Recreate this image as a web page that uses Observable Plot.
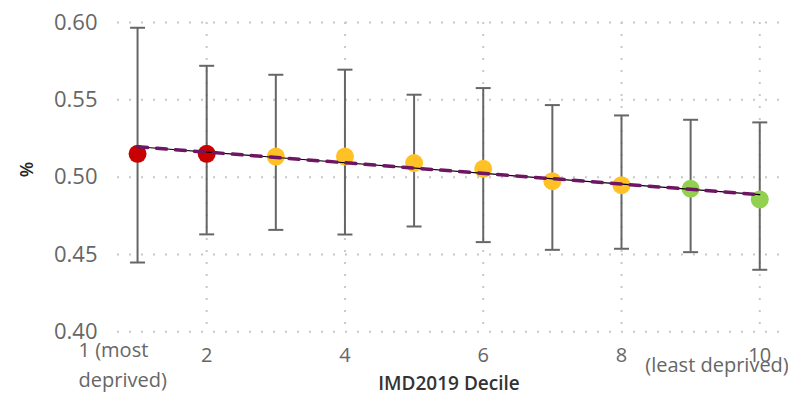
<!DOCTYPE html>
<html>
<head>
<meta charset="utf-8">
<script src="https://cdn.jsdelivr.net/npm/d3@7"></script>
<script src="https://cdn.jsdelivr.net/npm/@observablehq/plot@0.6"></script>
<style>
  html, body { margin: 0; padding: 0; background: #fff; }
</style>
</head>
<body>
<div id="chart"></div>
<script>
const deciles = [1, 2, 3, 4, 5, 6, 7, 8, 9, 10];
const values  = [0.5151, 0.5151, 0.5133, 0.5133, 0.5091, 0.5054, 0.4974, 0.4948, 0.4925, 0.4856];
const lower   = [0.4448, 0.4630, 0.4659, 0.4629, 0.4681, 0.4580, 0.4530, 0.4537, 0.4515, 0.4401];
const upper   = [0.5966, 0.5720, 0.5662, 0.5695, 0.5533, 0.5576, 0.5466, 0.5399, 0.5371, 0.5354];
const rag     = ["high", "high", "similar", "similar", "similar", "similar", "similar", "similar", "low", "low"];
const yTicks  = [0.40, 0.45, 0.50, 0.55, 0.60];
const xTicks  = [2, 4, 6, 8, 10];
const xTitle  = "IMD2019 Decile";
const yTitle  = "%";
const firstLabel = ["1 (most", "deprived)"];
const lastLabel  = "(least deprived)";

const data = deciles.map((d, i) => ({decile: d, value: values[i], lo: lower[i], hi: upper[i], rag: rag[i]}));

const capSymbol = {
  draw(ctx, size) {
    const r = Math.sqrt(size / Math.PI);
    ctx.moveTo(-r, 0);
    ctx.lineTo(r, 0);
  }
};

const chart = Plot.plot({
  width: 788,
  height: 402,
  marginLeft: 117,
  marginRight: 8,
  marginTop: 22,
  marginBottom: 70.7,
  style: {fontFamily: "'Open Sans', sans-serif", background: "white"},
  x: {domain: [0.71, 10.3]},
  y: {domain: [0.40, 0.60]},
  color: {domain: ["high", "similar", "low"], range: ["#C80000", "#FFC125", "#92D050"]},
  marks: [
    Plot.gridY(yTicks, {stroke: "#c8c8c8", strokeOpacity: 1, strokeWidth: 2, strokeDasharray: "2,10"}),
    Plot.gridX(xTicks, {stroke: "#c8c8c8", strokeOpacity: 1, strokeWidth: 2, strokeDasharray: "2,10"}),
    Plot.axisY(yTicks, {tickFormat: d3.format(".2f"), tickSize: 0, tickPadding: 20, fontSize: 22, color: "#666", label: null}),
    Plot.axisX(xTicks, {tickSize: 0, tickPadding: 16, fontSize: 20, color: "#666", label: null}),
    Plot.ruleX(data, {x: "decile", y1: "lo", y2: "hi", stroke: "#666", strokeWidth: 2}),
    Plot.dot(data, {x: "decile", y: "lo", symbol: capSymbol, r: 7.5, fill: "none", stroke: "#666", strokeWidth: 2}),
    Plot.dot(data, {x: "decile", y: "hi", symbol: capSymbol, r: 7.5, fill: "none", stroke: "#666", strokeWidth: 2}),
    Plot.dot(data, {x: "decile", y: "value", r: 9, fill: "rag", stroke: null}),
    Plot.linearRegressionY(data, {x: "decile", y: "value", stroke: "#000", strokeWidth: 1.2, ci: 0}),
    Plot.linearRegressionY(data, {x: "decile", y: "value", stroke: "#6E1563", strokeWidth: 3.5, strokeDasharray: "10,9", ci: 0}),
    Plot.text([firstLabel[0]], {x: [1], frameAnchor: "bottom", dx: -59, dy: 25.3, textAnchor: "start", fontSize: 20, fill: "#666"}),
    Plot.text([firstLabel[1]], {x: [1], frameAnchor: "bottom", dx: -59, dy: 55.3, textAnchor: "start", fontSize: 20, fill: "#666"}),
    Plot.text([lastLabel], {x: [10], frameAnchor: "bottom", dx: 29, dy: 40, textAnchor: "end", fontSize: 20, fill: "#666"}),
    Plot.text([xTitle], {frameAnchor: "bottom", dy: 57.7, fontSize: 19, fontWeight: 600, fill: "#333"}),
    Plot.text([yTitle], {frameAnchor: "left", dx: -90, rotate: -90, fontSize: 18, fontWeight: 600, fill: "#252423"})
  ]
});

document.getElementById("chart").appendChild(chart);
</script>
</body>
</html>
